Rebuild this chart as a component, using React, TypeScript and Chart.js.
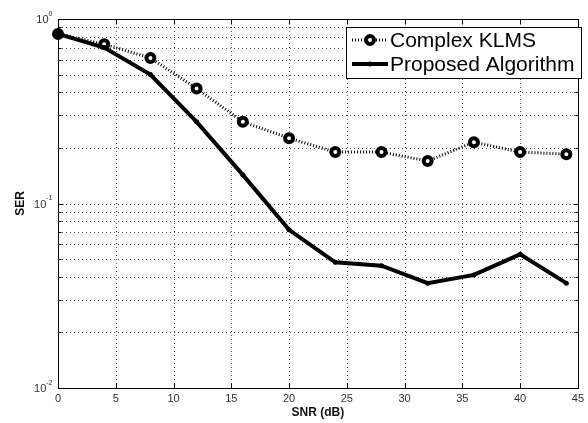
import React, { useEffect, useRef } from "react";
import { Chart, registerables } from "chart.js";

Chart.register(...registerables);

const snr = [0, 4, 8, 12, 16, 20, 24, 28, 32, 36, 40, 44];
const klms = [0.83, 0.73, 0.615, 0.42, 0.277, 0.226, 0.19, 0.19, 0.17, 0.215, 0.19, 0.185];
const proposed = [0.83, 0.7, 0.5, 0.277, 0.143, 0.072, 0.048, 0.046, 0.037, 0.041, 0.053, 0.037];
const xTicks = [0, 5, 10, 15, 20, 25, 30, 35, 40, 45];
const yMajor = [0.01, 0.1, 1];
const yExponents = ["-2", "-1", "0"];
const minorMult = [2, 3, 4, 5, 6, 7, 8, 9];
const seriesNames = ["Complex KLMS", "Proposed Algorithm"];

const FONT = "'Liberation Sans', Arial, Helvetica, sans-serif";

const framePlugin = {
  id: "frame",
  beforeDatasetsDraw(chart: any) {
    const { ctx, chartArea, scales } = chart;
    const { left, right, top, bottom } = chartArea;
    const x = scales.x;
    const y = scales.y;
    ctx.save();
    ctx.strokeStyle = "#555";
    ctx.lineWidth = 1;
    ctx.setLineDash([1, 3]);
    ctx.beginPath();
    for (const v of xTicks) {
      if (v <= xTicks[0] || v >= xTicks[xTicks.length - 1]) continue;
      const px = Math.round(x.getPixelForValue(v)) + 0.5;
      ctx.moveTo(px, top);
      ctx.lineTo(px, bottom);
    }
    for (let i = 0; i < yMajor.length - 1; i++) {
      const d = yMajor[i];
      const vals = [d, ...minorMult.map((m) => d * m)];
      for (const v of vals) {
        if (v <= yMajor[0] || v >= yMajor[yMajor.length - 1]) continue;
        const py = Math.round(y.getPixelForValue(v)) + 0.5;
        ctx.moveTo(left, py);
        ctx.lineTo(right, py);
      }
    }
    ctx.stroke();
    ctx.restore();
  },
  afterDatasetsDraw(chart: any) {
    const { ctx, chartArea, scales } = chart;
    const { left, right, top, bottom } = chartArea;
    const x = scales.x;
    const y = scales.y;
    ctx.save();
    ctx.setLineDash([]);
    ctx.strokeStyle = "#000";
    ctx.lineWidth = 1;
    const L = Math.round(left) + 0.5;
    const R = Math.round(right) + 0.5;
    const T = Math.round(top) + 0.5;
    const B = Math.round(bottom) + 0.5;
    ctx.strokeRect(L, T, R - L, B - T);
    ctx.beginPath();
    for (const v of xTicks) {
      const px = Math.round(x.getPixelForValue(v)) + 0.5;
      ctx.moveTo(px, B);
      ctx.lineTo(px, B - 5);
      ctx.moveTo(px, T);
      ctx.lineTo(px, T + 5);
    }
    for (let i = 0; i < yMajor.length; i++) {
      const py = Math.round(y.getPixelForValue(yMajor[i])) + 0.5;
      ctx.moveTo(L, py);
      ctx.lineTo(L + 5, py);
      ctx.moveTo(R, py);
      ctx.lineTo(R - 5, py);
      if (i < yMajor.length - 1) {
        for (const m of minorMult) {
          const pm = Math.round(y.getPixelForValue(yMajor[i] * m)) + 0.5;
          ctx.moveTo(L, pm);
          ctx.lineTo(L + 3, pm);
          ctx.moveTo(R, pm);
          ctx.lineTo(R - 3, pm);
        }
      }
    }
    ctx.stroke();

    // y tick labels 10^n
    ctx.fillStyle = "#333";
    ctx.textBaseline = "middle";
    for (let i = 0; i < yMajor.length; i++) {
      const py = y.getPixelForValue(yMajor[i]);
      ctx.font = `7px ${FONT}`;
      const ew = ctx.measureText(yExponents[i]).width;
      ctx.textAlign = "left";
      const ex = L - 6 - ew;
      ctx.fillText(yExponents[i], ex, py - 5);
      ctx.font = `11px ${FONT}`;
      ctx.textAlign = "right";
      ctx.fillText("10", ex, py + 1);
    }

    // legend
    const lx = 346.5, ly = 27.5, lw = 235, lh = 51;
    ctx.fillStyle = "#fff";
    ctx.fillRect(lx, ly, lw, lh);
    ctx.strokeStyle = "#000";
    ctx.lineWidth = 1;
    ctx.strokeRect(lx, ly, lw, lh);
    const rows = [40, 64];
    ctx.lineWidth = 3;
    ctx.setLineDash([1, 2]);
    ctx.beginPath();
    ctx.moveTo(352, rows[0]);
    ctx.lineTo(388, rows[0]);
    ctx.stroke();
    ctx.setLineDash([]);
    ctx.lineWidth = 4;
    ctx.beginPath();
    ctx.arc(370, rows[0], 4, 0, Math.PI * 2);
    ctx.fillStyle = "#fff";
    ctx.fill();
    ctx.stroke();
    ctx.lineWidth = 4;
    ctx.beginPath();
    ctx.moveTo(352, rows[1]);
    ctx.lineTo(388, rows[1]);
    ctx.stroke();
    ctx.beginPath();
    ctx.arc(370, rows[1], 2.5, 0, Math.PI * 2);
    ctx.fillStyle = "#000";
    ctx.fill();
    ctx.fillStyle = "#000";
    ctx.font = `21px ${FONT}`;
    ctx.textAlign = "left";
    ctx.textBaseline = "middle";
    ctx.fillText(seriesNames[0], 390, rows[0] + 1);
    ctx.fillText(seriesNames[1], 390, rows[1] + 1);
    ctx.restore();
  },
};

export default function App() {
  const ref = useRef<HTMLCanvasElement | null>(null);
  useEffect(() => {
    document.body.style.margin = "0";
    if (!ref.current) return;
    const chart = new Chart(ref.current, {
      type: "line",
      data: {
        datasets: [
          {
            label: seriesNames[0],
            data: snr.map((s, i) => ({ x: s, y: klms[i] })),
            borderColor: "#000",
            borderWidth: 3,
            borderDash: [1, 2],
            pointRadius: 4,
            pointBorderWidth: 4,
            pointBackgroundColor: "#fff",
            pointBorderColor: "#000",
            fill: false,
            tension: 0,
            clip: 10,
            order: 1,
          },
          {
            label: seriesNames[1],
            data: snr.map((s, i) => ({ x: s, y: proposed[i] })),
            borderColor: "#000",
            borderWidth: 4,
            pointRadius: 2.5,
            pointBorderWidth: 0,
            pointBackgroundColor: "#000",
            fill: false,
            tension: 0,
            clip: 10,
            order: 0,
          },
        ],
      },
      options: {
        responsive: true,
        maintainAspectRatio: false,
        animation: false,
        events: [],
        layout: { padding: { top: 19, right: 3, left: 13, bottom: 0 } },
        plugins: {
          legend: { display: false },
          tooltip: { enabled: false },
        },
        scales: {
          x: {
            type: "linear",
            min: 0,
            max: 45,
            afterBuildTicks: (s: any) => {
              s.ticks = xTicks.map((v) => ({ value: v }));
            },
            afterFit: (s: any) => {
              s.height = 35;
            },
            grid: { display: false, drawTicks: false, tickLength: 0 },
            border: { display: false },
            ticks: {
              autoSkip: false,
              maxRotation: 0,
              padding: 4,
              color: "#333",
              font: { family: FONT, size: 11 },
            },
            title: {
              display: true,
              text: "SNR (dB)",
              color: "#111",
              font: { family: FONT, size: 12, weight: "bold" },
              padding: { top: 0, bottom: 3 },
            },
          },
          y: {
            type: "logarithmic",
            min: 0.01,
            max: 1,
            afterBuildTicks: (s: any) => {
              s.ticks = yMajor.map((v) => ({ value: v }));
            },
            afterFit: (s: any) => {
              s.width = 45;
            },
            grid: { display: false, drawTicks: false, tickLength: 0 },
            border: { display: false },
            ticks: { display: false },
            title: {
              display: true,
              text: "SER",
              color: "#111",
              font: { family: FONT, size: 12, weight: "bold" },
              padding: { top: 0, bottom: 0 },
            },
          },
        },
      },
      plugins: [framePlugin],
    } as any);
    return () => chart.destroy();
  }, []);
  return (
    <div style={{ position: "relative", width: 588, height: 423 }}>
      <canvas ref={ref} />
    </div>
  );
}
